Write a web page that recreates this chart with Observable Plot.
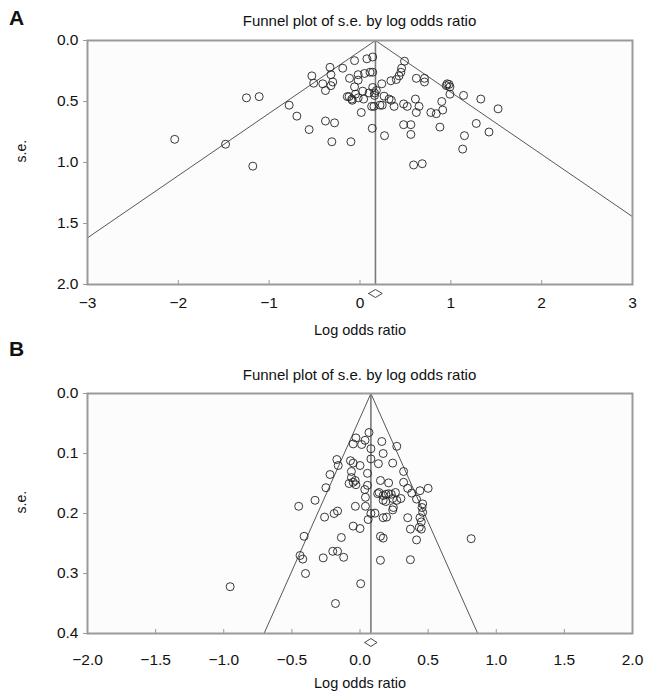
<!DOCTYPE html>
<html><head><meta charset="utf-8">
<script src="https://cdn.jsdelivr.net/npm/d3@7"></script>
<script src="https://cdn.jsdelivr.net/npm/@observablehq/plot@0.6"></script>
<style>
body{margin:0;background:#fff;font-family:"Liberation Sans",Arial,sans-serif;}
#wrap{position:relative;width:646px;height:691px;overflow:hidden;background:#fff;}
.letter{position:absolute;font-weight:bold;font-size:21px;color:#111;}
.title{position:absolute;font-size:15px;text-align:center;width:545px;left:87px;color:#111;}
.panel{position:absolute;left:0;}
</style></head><body>
<div id="wrap">
  <div class="letter" style="left:9px;top:6px">A</div>
  <div class="title" style="top:12px">Funnel plot of s.e. by log odds ratio</div>
  <div class="panel" id="pA" style="top:30px"></div>
  <div class="letter" style="left:9px;top:337px">B</div>
  <div class="title" style="top:366px">Funnel plot of s.e. by log odds ratio</div>
  <div class="panel" id="pB" style="top:383px"></div>
</div>
<script>
// ---------- Panel A data ----------
const lorA = [-2.04,-1.48,-1.25,-1.11,-1.18,-0.78,-0.695,-0.56,-0.38,-0.28,-0.31,-0.10,
  -0.53,-0.51,-0.41,-0.38,-0.33,-0.32,-0.30,-0.32,-0.19,-0.06,0.076,0.14,-0.115,-0.02,-0.02,0.05,0.11,
  -0.06,-0.14,-0.12,-0.09,-0.05,-0.02,0.03,0.04,0.10,0.14,0.16,0.128,0.153,0.014,0.135,-0.085,
  0.14,0.49,0.458,0.45,0.43,0.40,0.34,0.24,0.18,0.16,0.265,0.32,0.345,0.375,0.22,0.245,
  0.62,0.71,0.71,0.96,0.95,0.98,0.99,0.99,1.14,1.33,1.52,0.61,0.48,0.52,0.65,0.62,0.78,0.84,0.90,0.91,
  0.48,0.56,0.56,0.27,0.88,1.15,1.28,1.42,1.13,0.59,0.685];
const seA = [0.81,0.85,0.47,0.46,1.03,0.53,0.62,0.73,0.66,0.675,0.83,0.83,
  0.29,0.35,0.355,0.41,0.22,0.28,0.34,0.37,0.227,0.165,0.15,0.135,0.31,0.28,0.325,0.27,0.26,
  0.38,0.46,0.46,0.48,0.44,0.47,0.415,0.48,0.43,0.385,0.43,0.54,0.54,0.59,0.72,0.49,
  0.26,0.17,0.227,0.26,0.29,0.32,0.33,0.355,0.41,0.45,0.456,0.48,0.49,0.54,0.53,0.53,
  0.31,0.31,0.34,0.355,0.37,0.36,0.38,0.44,0.45,0.48,0.56,0.48,0.52,0.54,0.54,0.59,0.59,0.60,0.50,0.57,
  0.69,0.69,0.77,0.78,0.71,0.78,0.68,0.75,0.89,1.02,1.01];
const pooledA = 0.17, ciA = [0.095, 0.245];
const xTicksA = [-3,-2,-1,0,1,2,3];
const yTicksA = [0,0.5,1,1.5,2];

// ---------- Panel B data ----------
const lorB = [-0.953,-0.45,-0.33,-0.41,-0.44,-0.42,-0.40,-0.27,-0.20,-0.165,-0.12,-0.137,-0.18,0.005,
  -0.26,-0.19,-0.165,-0.05,0.0,-0.034,0.04,0.06,0.08,0.11,-0.25,-0.22,-0.17,-0.16,-0.063,-0.063,
  -0.08,-0.05,-0.035,-0.03,0.0,0.055,0.055,0.035,0.04,0.13,0.15,0.135,0.15,0.15,
  0.066,-0.03,0.037,-0.05,0.012,0.16,0.27,0.08,0.17,0.08,0.24,-0.07,-0.05,
  0.32,0.21,0.32,0.35,0.44,0.50,0.14,0.17,0.19,0.21,0.23,0.26,0.24,0.17,0.19,0.27,0.30,0.38,0.415,
  0.17,0.195,0.245,0.24,0.35,0.455,0.46,0.44,0.45,0.435,0.816,0.37,0.45,0.17,0.415,0.37,0.46];
const seB = [0.322,0.188,0.178,0.238,0.27,0.276,0.30,0.274,0.263,0.263,0.273,0.24,0.35,0.317,
  0.206,0.20,0.196,0.221,0.225,0.188,0.188,0.21,0.20,0.1995,0.157,0.135,0.11,0.12,0.13,0.14,
  0.15,0.148,0.145,0.152,0.12,0.133,0.153,0.16,0.173,0.167,0.145,0.117,0.238,0.278,
  0.065,0.074,0.078,0.084,0.085,0.08,0.088,0.092,0.10,0.109,0.116,0.112,0.116,
  0.13,0.149,0.148,0.158,0.162,0.158,0.165,0.17,0.168,0.167,0.168,0.165,0.175,0.178,0.18,0.178,0.175,0.166,0.176,
  0.207,0.206,0.19,0.194,0.207,0.19,0.198,0.207,0.214,0.223,0.242,0.226,0.226,0.241,0.244,0.277,0.184];
const pooledB = 0.08, ciB = [0.035, 0.125];
const xTicksB = [-2,-1.5,-1,-0.5,0,0.5,1,1.5,2];
const yTicksB = [0,0.1,0.2,0.3,0.4];

function funnel({lor, se, pooled, ci, xDomain, xTicks, yMax, yTicks, xFmt, height, marginBottom, xPad, xLabelOffset}) {
  const marginTop = 10;
  const frameH = height - marginTop - marginBottom;
  const sePerPx = yMax / frameH;
  const data = lor.map((x, i) => ({x, y: se[i]}));
  const funnelPts = [
    {x: pooled - 1.96 * yMax, y: yMax},
    {x: pooled, y: 0},
    {x: pooled + 1.96 * yMax, y: yMax}
  ];
  const yc = yMax + 9 * sePerPx, hh = 4 * sePerPx;
  const diamond = [
    {x: ci[0], y: yc}, {x: pooled, y: yc - hh}, {x: ci[1], y: yc}, {x: pooled, y: yc + hh}, {x: ci[0], y: yc}
  ];
  return Plot.plot({
    width: 646, height,
    marginLeft: 87, marginRight: 14, marginTop, marginBottom,
    style: {fontSize: "15.5px", fontFamily: "'Liberation Sans', Arial, sans-serif", color: "#111", background: "transparent"},
    x: {domain: xDomain},
    y: {domain: [0, yMax], reverse: true},
    marks: [
      Plot.frame({fill: "#fcfcfc", stroke: null}),
      Plot.line(funnelPts, {x: "x", y: "y", stroke: "#444", strokeWidth: 0.9, clip: true}),
      Plot.ruleX([pooled], {y1: 0, y2: yMax, stroke: "#7a7a7a", strokeWidth: 1.6}),
      Plot.dot(data, {x: "x", y: "y", r: 4, stroke: "#222", strokeWidth: 0.9, fill: "none"}),
      Plot.frame({stroke: "#9a9a9a", strokeWidth: 2}),
      Plot.line(diamond, {x: "x", y: "y", stroke: "#333", strokeWidth: 0.9}),
      Plot.axisY({ticks: yTicks, tickFormat: d3.format(".1f"), tickSize: 4, tickPadding: 5, stroke: "#999",
        label: null}),
      Plot.text(["s.e."], {frameAnchor: "left", dx: -66, rotate: -90, fontSize: 14, fill: "#111"}),
      Plot.axisX({ticks: xTicks, tickFormat: xFmt, tickSize: 5, dy: -4, tickPadding: xPad, stroke: "#999",
        label: null}),
      Plot.text(["Log odds ratio"], {frameAnchor: "bottom", dy: xLabelOffset, fontSize: 14.5, fill: "#111"})
    ]
  });
}
const minus = f => v => f(v).replace("-", "\u2013");
document.getElementById("pA").append(funnel({
  lor: lorA, se: seA, pooled: pooledA, ci: ciA, xDomain: [-3, 3], xTicks: xTicksA,
  yMax: 2, yTicks: yTicksA, xFmt: minus(d3.format("d")), height: 309, marginBottom: 55,
  xPad: 11, xLabelOffset: 50
}));
document.getElementById("pB").append(funnel({
  lor: lorB, se: seB, pooled: pooledB, ci: ciB, xDomain: [-2, 2], xTicks: xTicksB,
  yMax: 0.4, yTicks: yTicksB, xFmt: minus(d3.format(".1f")), height: 308, marginBottom: 58,
  xPad: 19, xLabelOffset: 54
}));
</script>
</body></html>
